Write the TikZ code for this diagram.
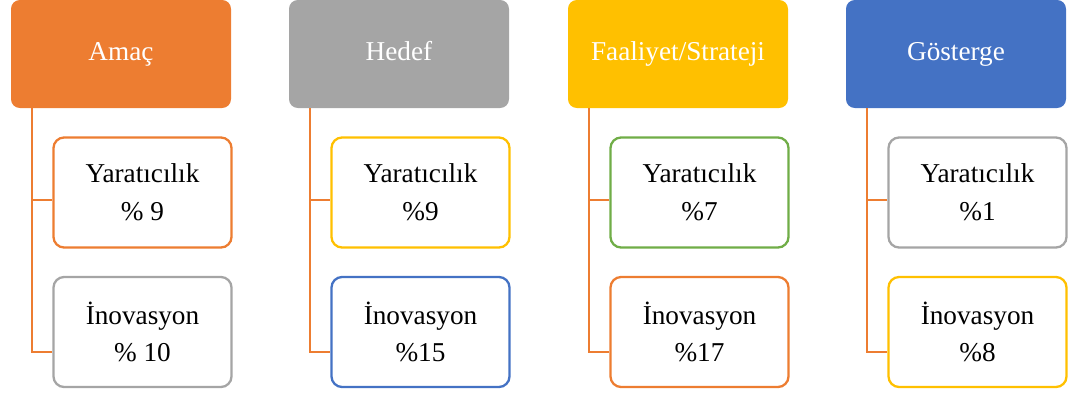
\documentclass[tikz,border=0pt]{standalone}
\usepackage{fontspec}
\setmainfont{Liberation Serif}
\usepackage{tikz}
\usetikzlibrary{arrows.meta,positioning,calc}

\definecolor{accorange}{HTML}{ED7D31}
\definecolor{accgray}{HTML}{A5A5A5}
\definecolor{accgold}{HTML}{FFC000}
\definecolor{accblue}{HTML}{4472C4}
\definecolor{accgreen}{HTML}{70AD47}

\begin{document}
\begin{tikzpicture}[
    head/.style={fill=#1, rounded corners=5pt, minimum width=4.4cm, minimum height=2.16cm, align=center, font=\fontsize{15.5}{18}\selectfont, text=white, inner sep=0pt, text height=2.4ex, text depth=0.9ex},
    item/.style={draw=#1, fill=white, line width=1.3pt, rounded corners=6pt, minimum width=3.56cm, minimum height=2.2cm, align=center, font=\fontsize{15.5}{21.5}\selectfont, inner sep=0pt},
    conn/.style={draw=accorange, line width=1.3pt}
]
\useasboundingbox (0,0) rectangle (21.58,-7.88);

% headers
\node[head=accorange] (h1) at (2.42,-1.08) {Amaç};
\node[head=accgray]   (h2) at (7.98,-1.08) {Hedef};
\node[head=accgold]   (h3) at (13.56,-1.08) {Faaliyet/Strateji};
\node[head=accblue]   (h4) at (19.12,-1.08) {Gösterge};

% items
\node[item=accorange] (y1) at (2.85,-3.85) {Yaratıcılık\\\% 9};
\node[item=accgray]   (i1) at (2.85,-6.64) {İnovasyon\\\% 10};
\node[item=accgold]   (y2) at (8.41,-3.85) {Yaratıcılık\\\%9};
\node[item=accblue]   (i2) at (8.41,-6.64) {İnovasyon\\\%15};
\node[item=accgreen]  (y3) at (13.99,-3.85) {Yaratıcılık\\\%7};
\node[item=accorange] (i3) at (13.99,-6.64) {İnovasyon\\\%17};
\node[item=accgray]   (y4) at (19.55,-3.85) {Yaratıcılık\\\%1};
\node[item=accgold]   (i4) at (19.55,-6.64) {İnovasyon\\\%8};

% connectors
\foreach \n in {1,2,3,4}{
  \draw[conn] ([xshift=0.42cm]h\n.south west) |- ([yshift=-0.15cm]y\n.west);
  \draw[conn] ([xshift=0.42cm]h\n.south west) |- ([yshift=-0.4cm]i\n.west);
}
\end{tikzpicture}
\end{document}
